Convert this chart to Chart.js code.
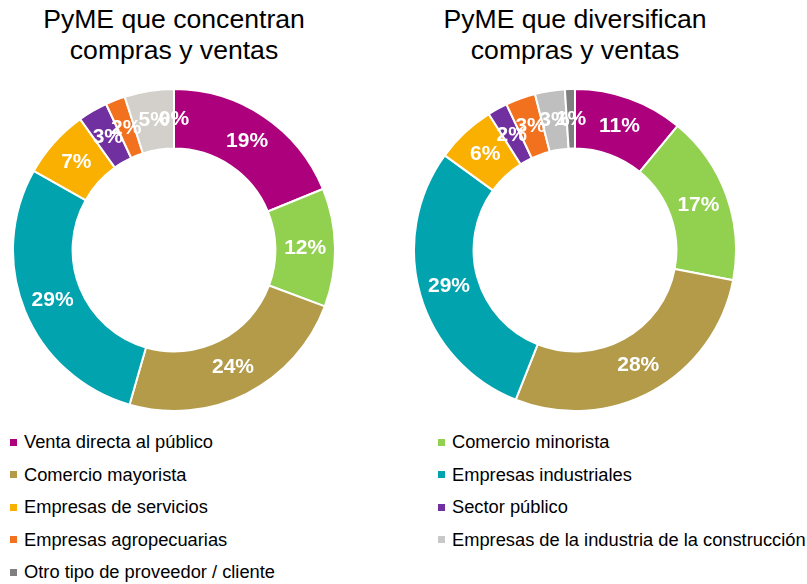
<!DOCTYPE html>
<html lang="es">
<head>
<meta charset="utf-8">
<script src="https://cdn.jsdelivr.net/npm/chart.js@4"></script>
<style>
  html, body { margin: 0; padding: 0; background: #fff; }
  body { width: 807px; height: 584px; position: relative; overflow: hidden;
         font-family: "Liberation Sans", Arial, sans-serif; color: #000; }
  .title { position: absolute; top: 4px; width: 360px; text-align: center;
           font-size: 26.6px; line-height: 31px; }
  canvas { position: absolute; }
  #legend { position: absolute; left: 10px; top: 432px; width: 800px;
            display: grid; grid-template-columns: 428px 370px; row-gap: 12.5px; }
  .item { display: flex; align-items: center; font-size: 18.3px; line-height: 20px;
          white-space: nowrap; }
  .sw { width: 7px; height: 7px; margin-right: 7px; flex: none; }
</style>
</head>
<body>
<div class="title" style="left:-6px">PyME que concentran<br>compras y ventas</div>
<div class="title" style="left:395px">PyME que diversifican<br>compras y ventas</div>
<canvas id="c1" width="324" height="324" style="left:12px;top:88px"></canvas>
<canvas id="c2" width="324" height="324" style="left:413px;top:88px"></canvas>
<div id="legend"></div>

<script>
/* ---- data ---- */
const categories = [
  'Venta directa al público', 'Comercio minorista',
  'Comercio mayorista', 'Empresas industriales',
  'Empresas de servicios', 'Sector público',
  'Empresas agropecuarias', 'Empresas de la industria de la construcción',
  'Otro tipo de proveedor / cliente'
];
const concentran   = [19, 12, 24, 29, 7, 3, 2, 5, 0];
const diversifican = [11, 17, 28, 29, 6, 2, 3, 3, 1];

const colors = ['#AD007D', '#92D050', '#B39B4A', '#00A3AE', '#F9B000',
                '#7030A0', '#F2711F', '#D3D0CB', '#7F7F7F'];
const colorsRight = ['#AD007D', '#92D050', '#B39B4A', '#00A3AE', '#F9B000',
                     '#7030A0', '#F2711F', '#BFBFBF', '#7F7F7F'];
const legendColors = ['#AD007D', '#92D050', '#B39B4A', '#00A3AE', '#F9B000',
                      '#7030A0', '#F2711F', '#C8C8C8', '#7F7F7F'];

// white % labels in the middle of each slice
const pctLabels = {
  id: 'pctLabels',
  afterDatasetsDraw(chart) {
    const ctx  = chart.ctx;
    const meta = chart.getDatasetMeta(0);
    const vals = chart.data.datasets[0].data;
    ctx.save();
    ctx.font = 'bold 21px "Liberation Sans", Arial, sans-serif';
    ctx.fillStyle = '#fff';
    ctx.textAlign = 'center';
    ctx.textBaseline = 'middle';
    meta.data.forEach((arc, i) => {
      const p = arc.tooltipPosition(true);
      ctx.fillText(vals[i] + '%', p.x, p.y);
    });
    ctx.restore();
  }
};

function donut(id, values, cols) {
  return new Chart(document.getElementById(id), {
    type: 'doughnut',
    data: {
      labels: categories,
      datasets: [{ data: values, backgroundColor: cols,
                   borderColor: '#fff', borderWidth: 2 }]
    },
    options: {
      responsive: false,
      animation: false,
      cutout: '63%',
      layout: { padding: 0 },
      plugins: { legend: { display: false }, tooltip: { enabled: false } }
    },
    plugins: [pctLabels]
  });
}

donut('c1', concentran, colors);
donut('c2', diversifican, colorsRight);

// legend, two columns, row by row
const lg = document.getElementById('legend');
categories.forEach((c, i) => {
  const it = document.createElement('div');
  it.className = 'item';
  it.innerHTML = `<span class="sw" style="background:${legendColors[i]}"></span>${c}`;
  lg.appendChild(it);
});
</script>
</body>
</html>
